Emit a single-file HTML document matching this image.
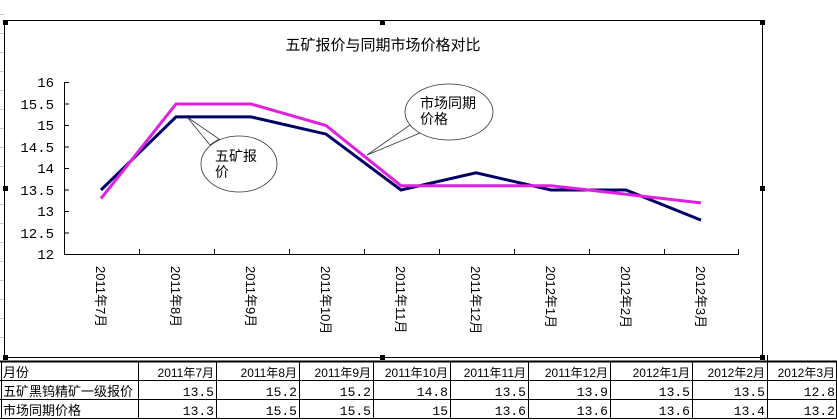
<!DOCTYPE html>
<html><head><meta charset="utf-8"><style>
html,body{margin:0;padding:0;background:#fff;}
svg{display:block;font-family:"Liberation Sans","Noto Sans CJK SC",sans-serif;}
</style></head><body>
<svg width="837" height="420" viewBox="0 0 837 420" xmlns="http://www.w3.org/2000/svg">
<!-- faint spreadsheet gridlines left -->
<g stroke="#ccc" stroke-width="1">
<line x1="0" y1="14.5" x2="4" y2="14.5"/><line x1="0" y1="33.5" x2="4" y2="33.5"/><line x1="0" y1="52.5" x2="4" y2="52.5"/><line x1="0" y1="71.5" x2="4" y2="71.5"/><line x1="0" y1="90.5" x2="4" y2="90.5"/><line x1="0" y1="109.5" x2="4" y2="109.5"/><line x1="0" y1="128.5" x2="4" y2="128.5"/><line x1="0" y1="147.5" x2="4" y2="147.5"/><line x1="0" y1="166.5" x2="4" y2="166.5"/><line x1="0" y1="204.5" x2="4" y2="204.5"/><line x1="0" y1="223.5" x2="4" y2="223.5"/><line x1="0" y1="242.5" x2="4" y2="242.5"/><line x1="0" y1="261.5" x2="4" y2="261.5"/><line x1="0" y1="280.5" x2="4" y2="280.5"/><line x1="0" y1="299.5" x2="4" y2="299.5"/><line x1="0" y1="318.5" x2="4" y2="318.5"/><line x1="0" y1="337.5" x2="4" y2="337.5"/>
</g>
<!-- chart frame -->
<rect x="4.5" y="20.5" width="758" height="337" fill="#fff" stroke="#000" stroke-width="1"/>
<g fill="#000">
<rect x="3" y="20" width="5" height="5"/><rect x="380" y="20" width="5" height="5"/><rect x="760" y="20" width="5" height="5"/>
<rect x="3" y="186" width="5" height="5"/><rect x="760" y="186" width="5" height="5"/>
<rect x="3" y="355" width="5" height="5"/><rect x="380" y="355" width="5" height="5"/><rect x="760" y="355" width="5" height="5"/>
</g>
<text x="383" y="50" font-size="15" text-anchor="middle">五矿报价与同期市场价格对比</text>
<!-- axes -->
<g stroke="#000" stroke-width="1" fill="none">
<line x1="64.5" y1="82" x2="64.5" y2="254"/>
<line x1="64" y1="254.5" x2="739" y2="254.5"/>
<line x1="64" y1="82.5" x2="69" y2="82.5"/><line x1="64" y1="104" x2="69" y2="104"/><line x1="64" y1="125.5" x2="69" y2="125.5"/><line x1="64" y1="147" x2="69" y2="147"/><line x1="64" y1="168.5" x2="69" y2="168.5"/><line x1="64" y1="190" x2="69" y2="190"/><line x1="64" y1="211.5" x2="69" y2="211.5"/><line x1="64" y1="233" x2="69" y2="233"/>
<line x1="139.5" y1="249" x2="139.5" y2="254"/><line x1="214.5" y1="249" x2="214.5" y2="254"/><line x1="289.5" y1="249" x2="289.5" y2="254"/><line x1="364.5" y1="249" x2="364.5" y2="254"/><line x1="439.5" y1="249" x2="439.5" y2="254"/><line x1="514.5" y1="249" x2="514.5" y2="254"/><line x1="589.5" y1="249" x2="589.5" y2="254"/><line x1="664.5" y1="249" x2="664.5" y2="254"/><line x1="738.5" y1="249" x2="738.5" y2="254"/>
</g>
<g font-size="14" text-anchor="end" font-family="Liberation Mono,monospace">
<text x="54" y="87">16</text><text x="54" y="109">15.5</text><text x="54" y="130">15</text><text x="54" y="152">14.5</text><text x="54" y="173">14</text><text x="54" y="195">13.5</text><text x="54" y="216">13</text><text x="54" y="238">12.5</text><text x="54" y="259">12</text>
</g>
<g font-size="13">
<text transform="translate(96,266) rotate(90)">2011年7月</text>
<text transform="translate(171,266) rotate(90)">2011年8月</text>
<text transform="translate(246,266) rotate(90)">2011年9月</text>
<text transform="translate(321,266) rotate(90)">2011年10月</text>
<text transform="translate(396,266) rotate(90)">2011年11月</text>
<text transform="translate(471,266) rotate(90)">2011年12月</text>
<text transform="translate(546,266) rotate(90)">2012年1月</text>
<text transform="translate(621,266) rotate(90)">2012年2月</text>
<text transform="translate(696,266) rotate(90)">2012年3月</text>
</g>
<!-- series -->
<polyline fill="none" stroke="#000066" stroke-width="3" points="101,190 176,116.9 251,116.9 326,134.1 401,190 476,172.8 551,190 626,190 701,220.1"/>
<polyline fill="none" stroke="#e020e0" stroke-width="3" points="101,198.6 176,104 251,104 326,125.5 401,185.7 476,185.7 551,185.7 626,194.3 701,202.9"/>
<!-- callouts -->
<path d="M187,117 L219,139 L210,145 Z" fill="#fff" stroke="#333" stroke-width="0.8"/>
<ellipse cx="239" cy="164" rx="38" ry="28" fill="#fff" stroke="#333" stroke-width="0.8"/>
<path d="M367,155 L410,125 L420,133 Z" fill="#fff" stroke="#333" stroke-width="0.8"/>
<ellipse cx="449" cy="112" rx="44" ry="28" fill="#fff" stroke="#333" stroke-width="0.8"/>
<g font-size="14">
<text x="215" y="161">五矿报</text><text x="215" y="177">价</text>
<text x="420" y="108">市场同期</text><text x="420" y="124">价格</text>
</g>
<!-- table -->
<g stroke="#000" stroke-width="1">
<line x1="0" y1="361.5" x2="837" y2="361.5" stroke-width="2"/>
<line x1="0" y1="380.5" x2="837" y2="380.5"/>
<line x1="0" y1="399.5" x2="837" y2="399.5"/>
<line x1="0" y1="418.5" x2="837" y2="418.5"/>
<line x1="1.5" y1="361" x2="1.5" y2="419"/>
<line x1="138.5" y1="361" x2="138.5" y2="419"/><line x1="216.5" y1="361" x2="216.5" y2="419"/><line x1="299.5" y1="361" x2="299.5" y2="419"/><line x1="373.5" y1="361" x2="373.5" y2="419"/><line x1="450.5" y1="361" x2="450.5" y2="419"/><line x1="528.5" y1="361" x2="528.5" y2="419"/><line x1="610.5" y1="361" x2="610.5" y2="419"/><line x1="692.5" y1="361" x2="692.5" y2="419"/><line x1="767.5" y1="355" x2="767.5" y2="419"/><line x1="836.5" y1="361" x2="836.5" y2="419"/>
</g>
<g font-size="13">
<text x="3" y="377">月份</text><text x="3" y="396">五矿黑钨精矿一级报价</text><text x="3" y="415">市场同期价格</text>
</g>
<g font-size="12" text-anchor="end">
<text x="214" y="377">2011年7月</text><text x="297" y="377">2011年8月</text><text x="371" y="377">2011年9月</text><text x="448" y="377">2011年10月</text><text x="526" y="377">2011年11月</text><text x="608" y="377">2011年12月</text><text x="690" y="377">2012年1月</text><text x="765" y="377">2012年2月</text><text x="835" y="377">2012年3月</text>
</g>
<g font-size="13" text-anchor="end" font-family="Liberation Mono,monospace">
<text x="214" y="396">13.5</text><text x="297" y="396">15.2</text><text x="371" y="396">15.2</text><text x="448" y="396">14.8</text><text x="526" y="396">13.5</text><text x="608" y="396">13.9</text><text x="690" y="396">13.5</text><text x="765" y="396">13.5</text><text x="835" y="396">12.8</text>
<text x="214" y="415">13.3</text><text x="297" y="415">15.5</text><text x="371" y="415">15.5</text><text x="448" y="415">15</text><text x="526" y="415">13.6</text><text x="608" y="415">13.6</text><text x="690" y="415">13.6</text><text x="765" y="415">13.4</text><text x="835" y="415">13.2</text>
</g>
</svg>
</body></html>
